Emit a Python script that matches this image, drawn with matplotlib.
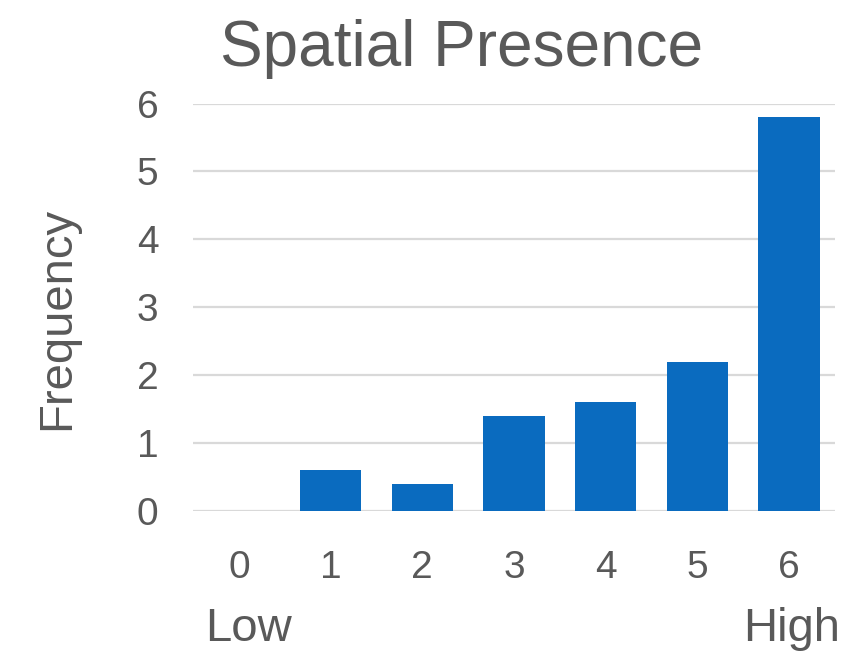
import matplotlib.pyplot as plt

# data
scores = [0, 1, 2, 3, 4, 5, 6]
freq = [0, 0.6, 0.4, 1.4, 1.6, 2.2, 5.8]
yticks = [0, 1, 2, 3, 4, 5, 6]

grey = "#595959"
blue = "#0A6BBF"
plt.rcParams["font.family"] = ["Liberation Sans", "DejaVu Sans"]

fig = plt.figure(figsize=(8.5, 6.58), dpi=100)
ax = fig.add_axes([193/850, 1-511/658, (835-193)/850, (511-103.5)/658])

ax.bar(scores, freq, width=0.67, color=blue, zorder=3)
ax.set_xlim(-0.5, 6.5)
ax.set_ylim(0, 6)
ax.set_yticks(yticks)
ax.set_xticks(scores)
ax.grid(axis="y", color="#D9D9D9", lw=1.6, zorder=0)
for s in ax.spines.values():
    s.set_visible(False)
ax.tick_params(length=0, labelsize=28, labelcolor=grey)
ax.tick_params(axis="y", pad=25)
ax.tick_params(axis="x", pad=28)

fig.text(57/850, 1-318/658, "Frequency", rotation=90, fontsize=34, color=grey,
         ha="center", va="center")
fig.text(462/850, 1-66/658, "Spatial Presence", fontsize=46, color=grey,
         ha="center", va="baseline")
fig.text(205/850, 1-641/658, "Low", fontsize=34, color=grey, ha="left", va="baseline")
fig.text(840/850, 1-641/658, "High", fontsize=34, color=grey, ha="right", va="baseline")

fig.savefig("out.png", dpi=100)
